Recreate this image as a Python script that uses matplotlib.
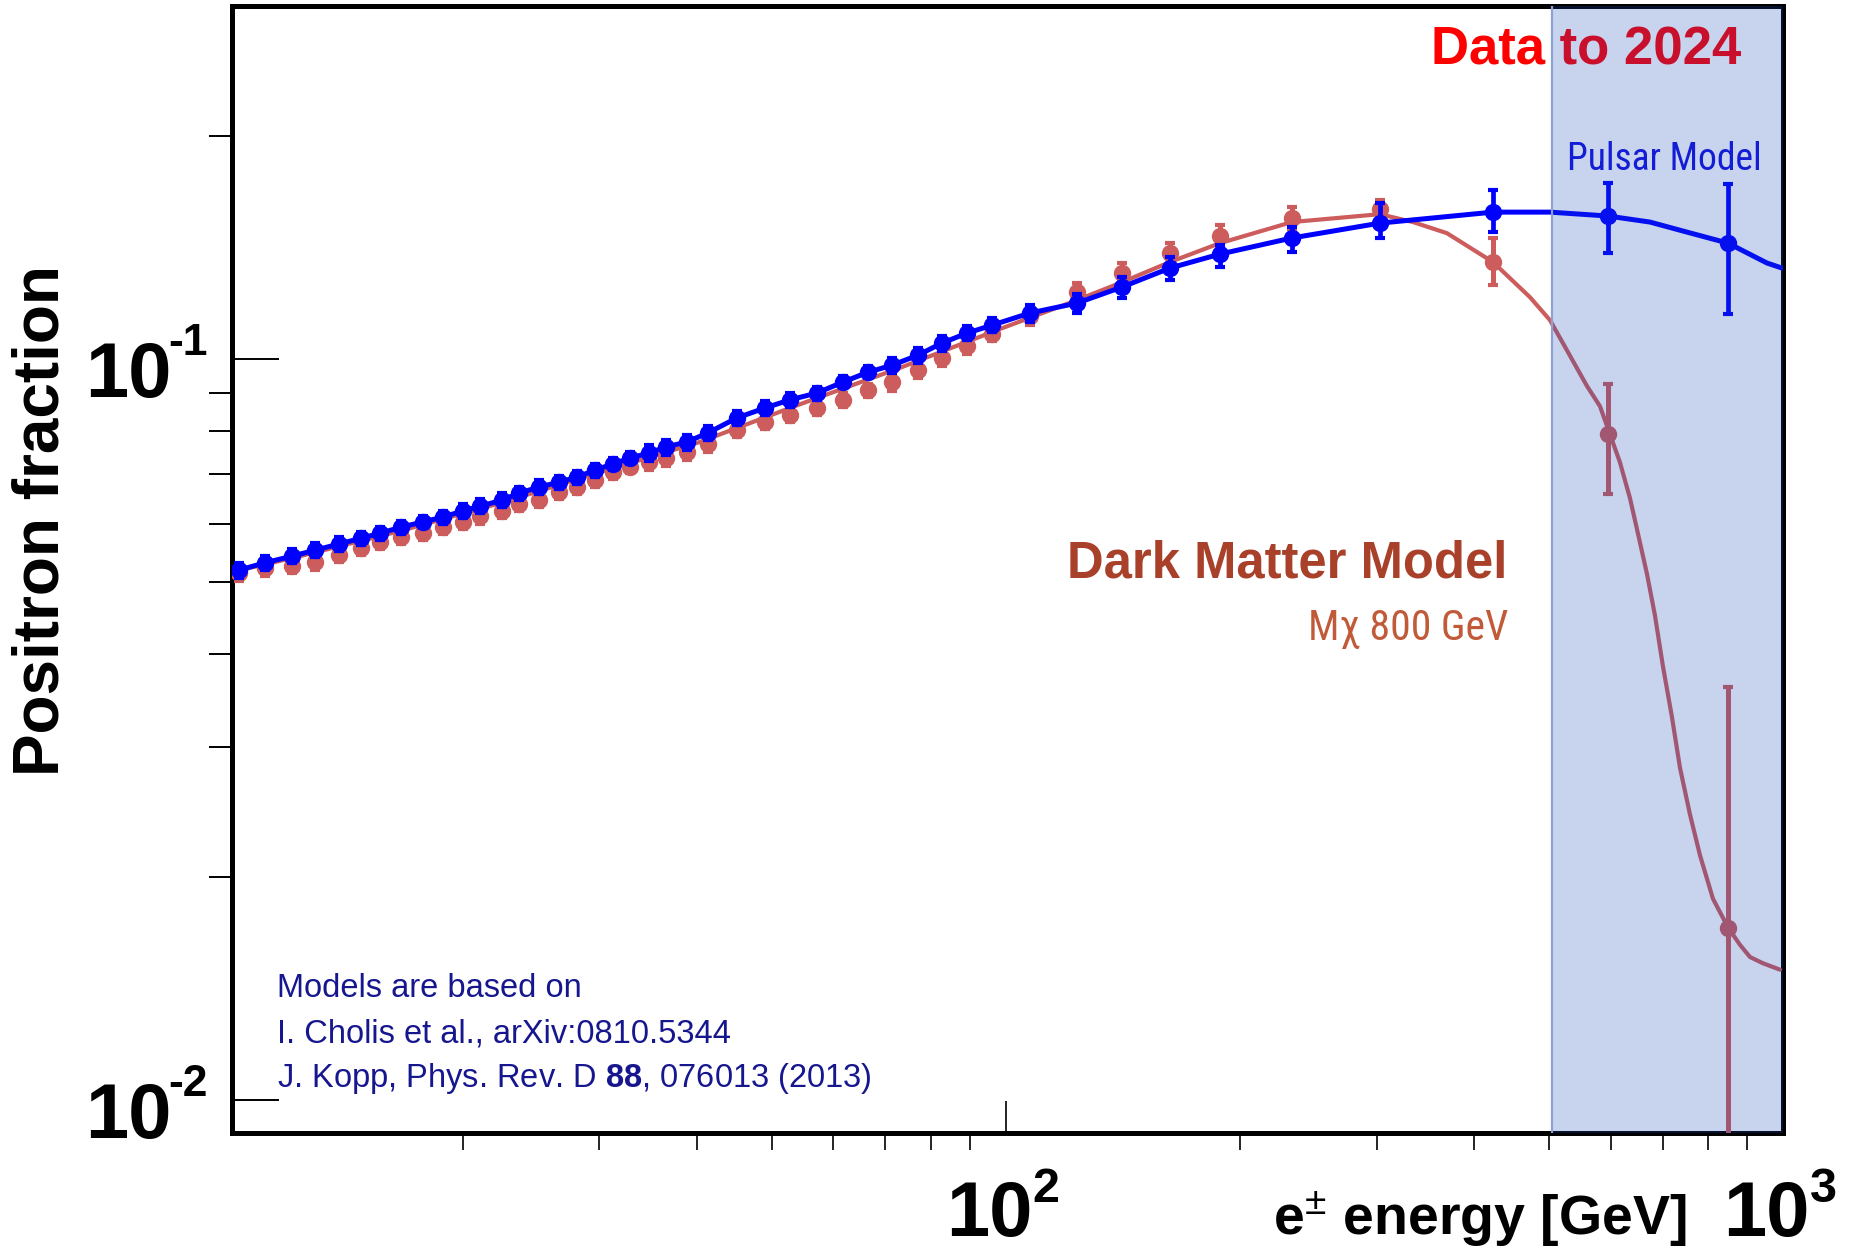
import matplotlib
matplotlib.use("Agg")
import matplotlib.pyplot as plt
from matplotlib import ticker, font_manager
from matplotlib.transforms import blended_transform_factory, offset_copy

plt.rcParams["font.family"] = ["Liberation Sans", "DejaVu Sans"]
plt.rcParams["mathtext.fontset"] = "custom"
plt.rcParams["mathtext.rm"] = "Liberation Sans"
plt.rcParams["mathtext.bf"] = "Liberation Sans:bold"
plt.rcParams["mathtext.it"] = "Liberation Sans:italic"

# projected positron fraction points, same energy bins for both models (GeV)
energy = [10.30, 11.13, 12.05, 12.90, 13.86, 14.79, 15.64, 16.65, 17.77, 18.86,
          20.01, 21.04, 22.46, 23.61, 25.06, 26.59, 28.05, 29.58, 31.20, 32.82,
          34.71, 36.51, 38.86, 41.35, 45.07, 48.96, 52.72, 57.13, 61.69, 66.44,
          71.35, 77.03, 82.74, 89.10, 95.94, 107.4, 123.4, 141.1, 162.6, 188.6,
          233.4, 302.9, 423.5, 595.3, 849.7]

pulsar_frac = [0.0519, 0.0531, 0.0542, 0.0552, 0.0563, 0.0573, 0.0582, 0.0593, 0.0603, 0.0612,
               0.0624, 0.0633, 0.0645, 0.0659, 0.0672, 0.0682, 0.0693, 0.0708, 0.0722, 0.0735,
               0.0747, 0.0761, 0.0773, 0.0795, 0.0833, 0.0859, 0.0881, 0.0900, 0.0931, 0.0960,
               0.0981, 0.1012, 0.1051, 0.1084, 0.1111, 0.1154, 0.1190, 0.1251, 0.1327, 0.1386,
               0.1457, 0.1526, 0.1579, 0.1560, 0.1434]
pulsar_err_lo = [0.0012, 0.0012, 0.0012, 0.0012, 0.0012, 0.0012, 0.0012, 0.0012, 0.0012, 0.0012,
                 0.0014, 0.0014, 0.0014, 0.0014, 0.0014, 0.0014, 0.0014, 0.0014, 0.0014, 0.0014,
                 0.0018, 0.0018, 0.0018, 0.0018, 0.0018, 0.0018, 0.0018, 0.0018, 0.0018, 0.0018,
                 0.0024, 0.0024, 0.0024, 0.0024, 0.0024, 0.0030, 0.0035, 0.0040, 0.0048, 0.0055,
                 0.0062, 0.0069, 0.0095, 0.0170, 0.0284]
pulsar_err_hi = [0.0012, 0.0012, 0.0012, 0.0012, 0.0012, 0.0012, 0.0012, 0.0012, 0.0012, 0.0012,
                 0.0014, 0.0014, 0.0014, 0.0014, 0.0014, 0.0014, 0.0014, 0.0014, 0.0014, 0.0014,
                 0.0018, 0.0018, 0.0018, 0.0018, 0.0018, 0.0018, 0.0018, 0.0018, 0.0018, 0.0018,
                 0.0024, 0.0024, 0.0024, 0.0024, 0.0024, 0.0030, 0.0035, 0.0040, 0.0048, 0.0040,
                 0.0050, 0.0098, 0.0112, 0.0168, 0.0291]

dm_frac = [0.0514, 0.0522, 0.0526, 0.0532, 0.0544, 0.0556, 0.0566, 0.0575, 0.0582, 0.0593,
           0.0603, 0.0614, 0.0624, 0.0637, 0.0645, 0.0661, 0.0672, 0.0687, 0.0704, 0.0715,
           0.0726, 0.0735, 0.0749, 0.0768, 0.0802, 0.0822, 0.0840, 0.0859, 0.0881, 0.0908,
           0.0931, 0.0967, 0.1003, 0.1041, 0.1081, 0.1143, 0.1231, 0.1307, 0.1390, 0.1466,
           0.1550, 0.1594, 0.1352, 0.0792, 0.0171]
dm_err_lo = [0.0012, 0.0012, 0.0012, 0.0012, 0.0012, 0.0012, 0.0012, 0.0012, 0.0012, 0.0012,
             0.0014, 0.0014, 0.0014, 0.0014, 0.0014, 0.0014, 0.0014, 0.0014, 0.0014, 0.0014,
             0.0018, 0.0018, 0.0018, 0.0018, 0.0018, 0.0018, 0.0018, 0.0018, 0.0018, 0.0018,
             0.0024, 0.0024, 0.0024, 0.0024, 0.0024, 0.0030, 0.0035, 0.0040, 0.0045, 0.0050,
             0.0053, 0.0045, 0.0093, 0.0135, 0.0166]
dm_err_hi = [0.0012, 0.0012, 0.0012, 0.0012, 0.0012, 0.0012, 0.0012, 0.0012, 0.0012, 0.0012,
             0.0014, 0.0014, 0.0014, 0.0014, 0.0014, 0.0014, 0.0014, 0.0014, 0.0014, 0.0014,
             0.0018, 0.0018, 0.0018, 0.0018, 0.0018, 0.0018, 0.0018, 0.0018, 0.0018, 0.0018,
             0.0024, 0.0024, 0.0024, 0.0024, 0.0024, 0.0030, 0.0035, 0.0040, 0.0045, 0.0050,
             0.0053, 0.0045, 0.0105, 0.0133, 0.0190]

# model curves
pulsar_curve_e = [10.1, 10.30, 11.13, 12.05, 12.90, 13.86, 14.79, 15.64, 16.65, 17.77, 18.86,
                  20.01, 21.04, 22.46, 23.61, 25.06, 26.59, 28.05, 29.58, 31.20, 32.82,
                  34.71, 36.51, 38.86, 41.35, 45.07, 48.96, 52.72, 57.13, 61.69, 66.44,
                  71.35, 77.03, 82.74, 89.10, 95.94, 107.4, 123.4, 141.1, 162.6, 188.6,
                  233.4, 302.9, 423.5, 501.3, 595.3, 674.2, 752.3, 849.7, 953.7, 997.0]
pulsar_curve_f = [0.0516, 0.0519, 0.0531, 0.0542, 0.0552, 0.0563, 0.0573, 0.0582, 0.0593, 0.0603, 0.0612,
                  0.0624, 0.0633, 0.0645, 0.0659, 0.0672, 0.0682, 0.0693, 0.0708, 0.0722, 0.0735,
                  0.0747, 0.0761, 0.0773, 0.0795, 0.0833, 0.0859, 0.0881, 0.0900, 0.0931, 0.0960,
                  0.0981, 0.1012, 0.1051, 0.1084, 0.1111, 0.1154, 0.1190, 0.1251, 0.1327, 0.1386,
                  0.1457, 0.1526, 0.1579, 0.1579, 0.1560, 0.1531, 0.1484, 0.1434, 0.1348, 0.1327]

dm_curve_e = [10.1, 12.34, 16.60, 22.33, 30.03, 40.39, 54.31, 73.04, 98.24, 123.4,
              141.1, 162.6, 188.6, 233.4, 302.9, 334.1, 369.5, 423.5, 472.6, 501.3,
              527.2, 559.4, 581.4, 598.8, 616.8, 635.5, 648.7, 668.3, 684.3, 700.7,
              719.6, 736.9, 759.1, 782.0, 812.6, 849.7, 880.5, 907.0, 942.5, 991.1]
dm_curve_f = [0.0516, 0.0542, 0.0586, 0.0639, 0.0704, 0.0773, 0.0869, 0.0973, 0.1098, 0.1201,
              0.1270, 0.1352, 0.1434, 0.1531, 0.1569, 0.1531, 0.1479, 0.1352, 0.1212, 0.1129,
              0.1028, 0.0920, 0.0864, 0.0792, 0.0726, 0.0649, 0.0590, 0.0513, 0.0451, 0.0385,
              0.0329, 0.0281, 0.0243, 0.0214, 0.0187, 0.0171, 0.0162, 0.0156, 0.0153, 0.0150]

x_major = [100]
x_minor = [20, 30, 40, 50, 60, 70, 80, 90, 200, 300, 400, 500, 600, 700, 800, 900]
y_major = [0.01, 0.1]
y_minor = [0.02, 0.03, 0.04, 0.05, 0.06, 0.07, 0.08, 0.09, 0.2]
x_labels = {100: "2", 1000: "3"}
y_labels = {0.1: "-1", 0.01: "-2"}
future_start = 505

BLUE = "#0000FF"
RED = "#CD5C5C"
NAVY = "#16168F"

# a narrow face for the small model captions, if one is installed
installed = {f.name for f in font_manager.fontManager.ttflist}
narrow_family = next((n for n in ["Liberation Sans Narrow", "Roboto Condensed", "Arial Narrow"]
                      if n in installed), None)
if narrow_family:
    narrow, narrow_scale = [narrow_family, "Liberation Sans"], 1.0
else:
    narrow, narrow_scale = ["Liberation Sans"], 0.83

fig = plt.figure(figsize=(18.55, 12.53), dpi=100)
ax = fig.add_axes([232 / 1855, 1 - 1133 / 1253, 1551 / 1855, 1127 / 1253])
ax.set_xscale("log")
ax.set_yscale("log")
ax.set_xlim(10.1, 1000)
ax.set_ylim(0.00903, 0.2996)

for side in ["left", "right", "top", "bottom"]:
    ax.spines[side].set_linewidth(3.6)

ax.xaxis.set_major_locator(ticker.FixedLocator(x_major))
ax.xaxis.set_minor_locator(ticker.FixedLocator(x_minor))
ax.yaxis.set_major_locator(ticker.FixedLocator(y_major))
ax.yaxis.set_minor_locator(ticker.FixedLocator(y_minor))
ax.xaxis.set_minor_formatter(ticker.NullFormatter())
ax.yaxis.set_minor_formatter(ticker.NullFormatter())
ax.tick_params(labelbottom=False, labelleft=False, direction="in")
ax.tick_params(axis="x", which="major", length=23, width=1.2)
ax.tick_params(axis="x", which="minor", length=12, width=1.2)
ax.tick_params(axis="y", which="major", length=34, width=1.4)
ax.tick_params(axis="y", which="minor", length=16.5, width=1.4)

# dark matter model (drawn first, pulsar on top)
ax.plot(dm_curve_e, dm_curve_f, color=RED, lw=3.0, zorder=3, solid_capstyle="round",
        solid_joinstyle="round")
ax.errorbar(energy, dm_frac, yerr=[dm_err_lo, dm_err_hi], fmt="o", color=RED,
            ms=11.5, elinewidth=3.6, capsize=3.5, capthick=3, zorder=3)

ax.plot(pulsar_curve_e, pulsar_curve_f, color=BLUE, lw=3.6, zorder=4, solid_capstyle="round",
        solid_joinstyle="round")
ax.errorbar(energy, pulsar_frac, yerr=[pulsar_err_lo, pulsar_err_hi], fmt="o", color=BLUE,
            ms=11.5, elinewidth=3.4, capsize=3.5, capthick=3, zorder=5)

# tick labels as 10 with a raised exponent
bold = dict(fontweight="bold", color="black", clip_on=False)
xt = blended_transform_factory(ax.transData, ax.transAxes)
for val, exp in x_labels.items():
    ax.text(val, 0, "10", fontsize=56, ha="right", va="baseline",
            transform=offset_copy(xt, fig=fig, x=27, y=-103, units="dots"), **bold)
    ax.text(val, 0, exp, fontsize=35, ha="left", va="baseline",
            transform=offset_copy(xt, fig=fig, x=27, y=-69, units="dots"), **bold)

yt = blended_transform_factory(ax.transAxes, ax.transData)
for val, exp in y_labels.items():
    ax.text(0, val, "10", fontsize=56, ha="right", va="baseline",
            transform=offset_copy(yt, fig=fig, x=-60, y=-38, units="dots"), **bold)
    ax.text(0, val, exp, fontsize=32, ha="left", va="baseline",
            transform=offset_copy(yt, fig=fig, x=-64, y=4, units="dots"), **bold)

ax.text(-0.1231, 0.5439, "Positron fraction", rotation=90, fontsize=46,
        ha="center", va="center", transform=ax.transAxes, **bold)
ax.text(0.6712, -0.0905, r"e$^{\pm}$ energy [GeV]", fontsize=40,
        ha="left", va="baseline", transform=ax.transAxes, **bold)

# annotations
ax.text(0.7730, 0.9477, "Data to 2024", fontsize=38, fontweight="bold", color="#FF0000",
        ha="left", va="baseline", transform=ax.transAxes, zorder=6)
ax.text(0.8607, 0.8545, "Pulsar Model", fontsize=27 * narrow_scale, family=narrow, color="#1010DD",
        ha="left", va="baseline", transform=ax.transAxes, zorder=6)
ax.text(0.5384, 0.4933, "Dark Matter Model", fontsize=36.5, fontweight="bold", color="#A8402A",
        ha="left", va="baseline", transform=ax.transAxes, zorder=6)
ax.text(0.8227, 0.4374, "M\u03c7 800 GeV", fontsize=30 * narrow_scale, family=narrow, color="#C05A38",
        ha="right", va="baseline", transform=ax.transAxes, zorder=6)

refs = ["Models are based on",
        "I. Cholis et al., arXiv:0810.5344",
        r"J. Kopp, Phys. Rev. D $\mathbf{88}$, 076013 (2013)"]
for y, line in zip([0.1207, 0.0807, 0.0408], refs):
    ax.text(0.0290, y, line, fontsize=23.5, color=NAVY, ha="left", va="baseline",
            transform=ax.transAxes, zorder=6)

# shaded band for the energy range reached by the extended data set
ax.axvspan(future_start, 1000, color=(25 / 255, 71 / 255, 188 / 255), alpha=0.24, lw=0, zorder=10)
ax.axvline(future_start, color="#8AA3D4", lw=1.6, zorder=11)

fig.savefig("out.png", dpi=100)
